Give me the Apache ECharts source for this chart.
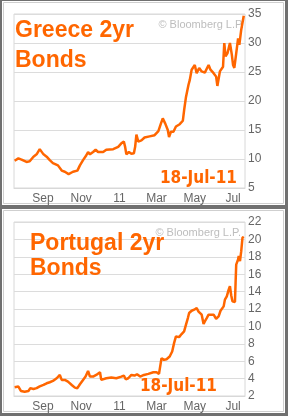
<!DOCTYPE html>
<html><head><meta charset="utf-8">
<script src="https://cdn.jsdelivr.net/npm/echarts@6/dist/echarts.min.js"></script>
<style>html,body{margin:0;padding:0;background:#fff}#c{width:288px;height:416px}</style>
</head><body><div id="c"></div>
<script>
var startDate = '2010-07-17';
var endDate = '2011-07-20';
var xTickDates = ['2010-09-01','2010-11-01','2011-01-01','2011-03-01','2011-05-01','2011-07-01'];
var xTickLabels = ['Sep','Nov','11','Mar','May','Jul'];

var greeceDates = ['2010-07-18','2010-07-24','2010-07-29','2010-08-06','2010-08-11','2010-08-17','2010-08-22','2010-08-27','2010-09-02','2010-09-07','2010-09-12','2010-09-17','2010-09-25','2010-10-01','2010-10-06','2010-10-12','2010-10-19','2010-10-26','2010-10-30','2010-11-04','2010-11-09','2010-11-12','2010-11-15','2010-11-20','2010-11-24','2010-11-28','2010-12-01','2010-12-06','2010-12-11','2010-12-22','2010-12-30','2011-01-04','2011-01-08','2011-01-10','2011-01-12','2011-01-16','2011-01-20','2011-01-24','2011-01-26','2011-01-28','2011-01-31','2011-02-05','2011-02-10','2011-02-18','2011-02-26','2011-03-04','2011-03-08','2011-03-11','2011-03-15','2011-03-19','2011-03-21','2011-03-24','2011-03-28','2011-04-01','2011-04-07','2011-04-12','2011-04-14','2011-04-17','2011-04-21','2011-04-23','2011-04-26','2011-04-29','2011-05-01','2011-05-04','2011-05-08','2011-05-12','2011-05-17','2011-05-23','2011-05-26','2011-05-31','2011-06-04','2011-06-06','2011-06-09','2011-06-10','2011-06-15','2011-06-17','2011-06-19','2011-06-22','2011-06-26','2011-06-29','2011-07-01','2011-07-03','2011-07-06','2011-07-09','2011-07-11','2011-07-14','2011-07-18'];
var greeceValues = [9.7,10.1,9.9,9.5,9.6,10.4,10.8,11.7,10.8,10.4,9.8,9.3,8.9,8.0,7.8,7.4,7.8,8.0,8.9,9.8,10.6,11.2,10.8,11.2,11.6,11.2,11.5,11.2,11.6,11.7,12.1,12.7,13.0,12.1,10.8,11.2,10.9,11.0,12.1,14.2,13.0,13.2,13.7,13.9,14.1,14.8,16.1,17.0,16.1,15.0,13.8,14.7,14.7,15.6,16.0,16.6,18.4,20.7,22.8,23.6,25.4,25.7,26.2,24.8,25.7,25.1,24.9,26.2,25.4,24.8,24.2,22.6,22.5,25.1,25.9,30.0,27.7,28.2,30.0,28.0,26.2,25.7,28.2,30.8,29.7,32.3,34.7];

var portugalDates = ['2010-07-18','2010-07-24','2010-07-28','2010-08-03','2010-08-09','2010-08-12','2010-08-17','2010-08-22','2010-08-27','2010-09-02','2010-09-07','2010-09-12','2010-09-17','2010-09-23','2010-09-28','2010-10-01','2010-10-06','2010-10-11','2010-10-17','2010-10-22','2010-10-26','2010-10-30','2010-11-04','2010-11-08','2010-11-12','2010-11-15','2010-11-20','2010-11-25','2010-12-01','2010-12-03','2010-12-06','2010-12-11','2010-12-19','2010-12-27','2011-01-04','2011-01-08','2011-01-11','2011-01-15','2011-01-20','2011-01-25','2011-01-29','2011-02-03','2011-02-09','2011-02-16','2011-02-24','2011-03-01','2011-03-05','2011-03-08','2011-03-09','2011-03-13','2011-03-17','2011-03-22','2011-03-26','2011-03-29','2011-04-01','2011-04-04','2011-04-06','2011-04-10','2011-04-14','2011-04-17','2011-04-20','2011-04-22','2011-04-26','2011-04-30','2011-05-04','2011-05-07','2011-05-09','2011-05-12','2011-05-15','2011-05-17','2011-05-20','2011-05-23','2011-05-26','2011-05-31','2011-06-04','2011-06-08','2011-06-11','2011-06-16','2011-06-18','2011-06-21','2011-06-24','2011-06-26','2011-06-28','2011-06-30','2011-07-04','2011-07-05','2011-07-06','2011-07-09','2011-07-10','2011-07-12','2011-07-14','2011-07-16','2011-07-18'];
var portugalValues = [3.0,3.08,2.58,2.5,2.58,2.9,2.8,2.9,3.1,3.27,3.46,3.58,3.73,4.04,4.42,3.85,3.85,3.65,3.27,2.96,2.9,3.35,3.85,4.23,4.88,4.23,4.23,4.42,4.73,3.85,3.73,4.04,4.12,4.04,4.23,4.35,3.92,4.04,4.42,4.35,4.5,4.23,4.42,4.54,4.73,4.73,4.54,4.62,6.35,6.15,6.23,6.54,7.12,8.08,8.85,9.04,8.77,9.12,9.42,10.2,10.96,11.54,11.8,11.92,12.1,11.7,11.9,11.35,10.27,10.58,10.96,11.35,11.15,11.35,10.88,11.15,11.8,12.3,13.08,13.46,14.23,14.62,13.58,12.88,12.8,15.0,17.1,17.7,18.1,17.5,18.65,20.2,20.3];

var t0 = Date.parse(startDate);
function day(d){ return (Date.parse(d) - t0) / 864e5; }
var xMax = day(endDate);
var tickPos = xTickDates.map(day);
function tickLabel(v){ for (var i=0;i<tickPos.length;i++){ if (Math.abs(tickPos[i]-v)<0.5) return xTickLabels[i]; } return ''; }
function pairs(ds, vs){ return ds.map(function(d,i){ return [day(d), vs[i]]; }); }

var ORANGE = '#ff6600';
var FONT = '"Liberation Sans", Arial, sans-serif';
var NARROW = '"Liberation Sans Narrow", "Arial Narrow", "DejaVu Sans Condensed", sans-serif';

function xAx(gi){
  return { type:'value', gridIndex:gi, min:0, max:xMax,
    axisLine:{show:true, lineStyle:{color:'#d8d8d8'}},
    axisTick:{show:false}, splitLine:{show:false},
    axisLabel:{customValues:tickPos, formatter:tickLabel, color:'#666', fontSize:12, fontFamily:FONT, margin:5}
  };
}
function yAx(gi, mn, mx, iv){
  return { type:'value', gridIndex:gi, position:'right', min:mn, max:mx, interval:iv,
    axisLine:{show:false}, axisTick:{show:false},
    splitLine:{show:true, lineStyle:{color:'#dcdcdc', width:1}},
    axisLabel:{color:'#666', fontSize:12, fontFamily:FONT, margin:3}
  };
}

var chart = echarts.init(document.getElementById('c'), null, {renderer:'canvas'});
chart.setOption({
  animation:false,
  backgroundColor:'#707070',
  grid:[
    {left:14, right:43, top:14, height:174, show:true, borderColor:'#d8d8d8', borderWidth:1, backgroundColor:'#fff'},
    {left:14, right:43, top:222, height:174, show:true, borderColor:'#d8d8d8', borderWidth:1, backgroundColor:'#fff'}
  ],
  xAxis:[xAx(0), xAx(1)],
  yAxis:[yAx(0,5,35,5), yAx(1,2,22,2)],
  graphic:[
    {type:'rect', z:-10, shape:{x:2, y:1, width:283, height:204}, style:{fill:'#fff', stroke:null}},
    {type:'rect', z:-9, shape:{x:3.5, y:2.5, width:280, height:201}, style:{fill:'#fff', stroke:'#cfcfcf', lineWidth:1}},
    {type:'rect', z:-10, shape:{x:2, y:209, width:283, height:204}, style:{fill:'#fff', stroke:null}},
    {type:'rect', z:-9, shape:{x:3.5, y:210.5, width:280, height:201}, style:{fill:'#fff', stroke:'#cfcfcf', lineWidth:1}},
    {type:'text', z:1, left:null, x:15, y:31, style:{text:'Greece 2yr', fill:ORANGE, font:'bold 23px '+FONT, verticalAlign:'middle'}},
    {type:'text', z:1, x:15, y:61, style:{text:'Bonds', fill:ORANGE, font:'bold 23px '+FONT, verticalAlign:'middle'}},
    {type:'text', z:1, x:30, y:244, style:{text:'Portugal 2yr', fill:ORANGE, font:'bold 23px '+FONT, verticalAlign:'middle'}},
    {type:'text', z:1, x:30, y:269, style:{text:'Bonds', fill:ORANGE, font:'bold 23px '+FONT, verticalAlign:'middle'}},
    {type:'text', z:1, x:244, y:25, style:{text:'\u00a9 Bloomberg L.P.', fill:'#bdbdbd', font:'11px '+FONT, align:'right', verticalAlign:'middle'}},
    {type:'text', z:1, x:241, y:233, style:{text:'\u00a9 Bloomberg L.P.', fill:'#bdbdbd', font:'11px '+FONT, align:'right', verticalAlign:'middle'}},
    {type:'text', z:1, x:237, y:179, style:{text:'18-Jul-11', fill:ORANGE, font:'bold 17px '+NARROW, align:'right', verticalAlign:'middle'}},
    {type:'text', z:1, x:217, y:387, style:{text:'18-Jul-11', fill:ORANGE, font:'bold 17px '+NARROW, align:'right', verticalAlign:'middle'}}
  ],
  series:[
    {type:'line', xAxisIndex:0, yAxisIndex:0, data:pairs(greeceDates, greeceValues), showSymbol:false, z:5,
     lineStyle:{color:ORANGE, width:2.5}, itemStyle:{color:ORANGE}},
    {type:'line', xAxisIndex:1, yAxisIndex:1, data:pairs(portugalDates, portugalValues), showSymbol:false, z:5,
     lineStyle:{color:ORANGE, width:2.5}, itemStyle:{color:ORANGE}}
  ]
});
</script></body></html>
